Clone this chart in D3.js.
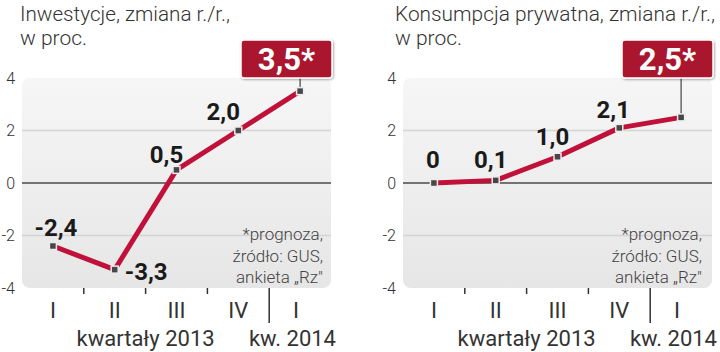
<!DOCTYPE html>
<html>
<head>
<meta charset="utf-8">
<script src="https://cdn.jsdelivr.net/npm/d3@7"></script>
<style>
  body { margin: 0; background: #fff; }
  svg { display: block; }
</style>
</head>
<body>
<svg id="chart" width="720" height="352"></svg>
<script>
// data
const quarters = ['I', 'II', 'III', 'IV', 'I']
const yTicks = [4, 2, 0, -2, -4]
const investValues = [-2.4, -3.3, 0.5, 2.0, 3.5]
const investLabels = ['-2,4', '-3,3', '0,5', '2,0', '3,5*']
const consumValues = [0, 0.1, 1.0, 2.1, 2.5]
const consumLabels = ['0', '0,1', '1,0', '2,1', '2,5*']
const noteLines = ['*prognoza,', 'źródło: GUS,', 'ankieta „Rz"']

const RED = '#c0113a'
const BOXRED = '#a9142f'
const lightFont = 'Roboto, "Open Sans", sans-serif'
const boldFont = 'Roboto, "Liberation Sans Narrow", sans-serif'

const mainSvg = d3.select('#chart')

let defs = mainSvg.append('defs')
let grad = defs.append('linearGradient')
    .attr('id', 'bgGrad')
    .attr('x1', 0).attr('y1', 0).attr('x2', 0).attr('y2', 1)
grad.append('stop').attr('offset', '0%').attr('stop-color', '#f6f6f6')
grad.append('stop').attr('offset', '100%').attr('stop-color', '#e6e6e6')

let shadow = defs.append('filter').attr('id', 'boxShadow')
    .attr('x', '-10%').attr('y', '-10%').attr('width', '130%').attr('height', '140%')
shadow.append('feDropShadow')
    .attr('dx', 1).attr('dy', 1).attr('stdDeviation', 1.2)
    .attr('flood-color', '#000').attr('flood-opacity', 0.35)

const drawPanel = (opt) => {
    let g = mainSvg.append('g').attr('class', 'panel')

    let x = d3.scaleBand()
        .domain(d3.range(quarters.length))
        .range([opt.x0, opt.x0 + 309])
        .padding(0)

    let y = d3.scaleLinear()
        .domain([-4, 4])
        .range([288, 78])

    // title
    g.selectAll('.title')
        .data(opt.title)
        .enter().append('text')
        .attr('class', 'title')
        .attr('x', opt.titleX)
        .attr('y', (d, i) => 21 + i * 24)
        .style('font-family', lightFont)
        .style('font-weight', 300)
        .style('font-size', '21px')
        .attr('fill', '#333')
        .attr('textLength', (d, i) => i === 0 ? opt.titleW : null)
        .attr('lengthAdjust', 'spacingAndGlyphs')
        .text(d => d)

    // plot background
    g.append('rect')
        .attr('x', opt.x0)
        .attr('y', y(4))
        .attr('width', 309)
        .attr('height', y(-4) - y(4))
        .attr('rx', 8)
        .attr('fill', 'url(#bgGrad)')

    // gridlines
    g.append('g')
        .selectAll('line')
        .data(yTicks.filter(v => v !== 4 && v !== -4))
        .enter().append('line')
        .attr('x1', opt.x0)
        .attr('x2', opt.x0 + 309)
        .attr('y1', d => y(d))
        .attr('y2', d => y(d))
        .attr('stroke', d => d === 0 ? '#4a4a4a' : '#d4d4d4')
        .attr('stroke-width', d => d === 0 ? 1.6 : 1.5)

    // y tick labels
    g.append('g')
        .selectAll('text')
        .data(yTicks)
        .enter().append('text')
        .attr('x', opt.x0 - 7)
        .attr('y', d => y(d))
        .attr('dy', '0.35em')
        .attr('text-anchor', 'end')
        .style('font-family', lightFont)
        .style('font-weight', 300)
        .style('font-size', '16px')
        .attr('fill', '#333')
        .text(d => d)

    // x ticks at band boundaries
    let bounds = d3.range(1, quarters.length)
    g.append('g')
        .selectAll('line')
        .data(bounds)
        .enter().append('line')
        .attr('x1', d => x(d))
        .attr('x2', d => x(d))
        .attr('y1', y(-4))
        .attr('y2', d => d === 4 ? 323 : 294)
        .attr('stroke', '#333')
        .attr('stroke-width', 1.5)

    // quarter labels
    g.append('g')
        .selectAll('text')
        .data(quarters)
        .enter().append('text')
        .attr('x', (d, i) => x(i) + x.bandwidth() / 2 - (i === 4 ? 4 : 0))
        .attr('y', 318)
        .attr('text-anchor', 'middle')
        .style('font-family', lightFont)
        .style('font-weight', 400)
        .style('font-size', '22px')
        .attr('fill', '#333')
        .text(d => d)

    g.append('text')
        .attr('x', (x(0) + x(3) + x.bandwidth()) / 2)
        .attr('y', 346)
        .attr('text-anchor', 'middle')
        .style('font-family', lightFont)
        .style('font-weight', 400)
        .style('font-size', '22px')
        .attr('fill', '#333')
        .text('kwartały 2013')

    g.append('text')
        .attr('x', opt.x0 + 309 + 5)
        .attr('y', 346)
        .attr('text-anchor', 'end')
        .style('font-family', lightFont)
        .style('font-weight', 400)
        .style('font-size', '22px')
        .attr('fill', '#333')
        .text('kw. 2014')

    // note
    g.append('g')
        .selectAll('text')
        .data(noteLines)
        .enter().append('text')
        .attr('x', opt.x0 + 309 - opt.noteDx)
        .attr('y', (d, i) => 240 + i * 21.5)
        .attr('text-anchor', 'end')
        .style('font-family', lightFont)
        .style('font-weight', 300)
        .style('font-size', '17px')
        .attr('fill', '#444')
        .text(d => d)

    // line
    let line = d3.line()
        .x((d, i) => x(i) + x.bandwidth() / 2)
        .y(d => y(d))

    g.append('path')
        .datum(opt.values)
        .attr('d', line)
        .attr('fill', 'none')
        .attr('stroke', RED)
        .attr('stroke-width', 5)
        .attr('stroke-linejoin', 'round')

    let last = opt.values.length - 1
    let lx = x(last) + x.bandwidth() / 2

    // callout stem
    g.append('line')
        .attr('x1', lx).attr('x2', lx)
        .attr('y1', 78)
        .attr('y2', y(opt.values[last]))
        .attr('stroke', '#444')
        .attr('stroke-width', 1.2)

    // markers
    g.append('g')
        .selectAll('rect')
        .data(opt.values)
        .enter().append('rect')
        .attr('x', (d, i) => x(i) + x.bandwidth() / 2 - 3.5)
        .attr('y', d => y(d) - 3.5)
        .attr('width', 7)
        .attr('height', 7)
        .attr('fill', '#474747')
        .attr('stroke', '#ececec')
        .attr('stroke-width', 1.5)

    // value labels
    g.append('g')
        .selectAll('text')
        .data(opt.values.slice(0, last))
        .enter().append('text')
        .attr('x', (d, i) => x(i) + x.bandwidth() / 2 + opt.labelOff[i][0])
        .attr('y', (d, i) => y(d) + opt.labelOff[i][1])
        .attr('text-anchor', (d, i) => opt.labelOff[i][2] || 'middle')
        .style('font-family', boldFont)
        .style('font-weight', 700)
        .style('font-size', '24px')
        .attr('fill', '#1a1a1a')
        .text((d, i) => opt.labels[i])

    // callout box
    g.append('rect')
        .attr('x', opt.boxX)
        .attr('y', 40)
        .attr('width', 91)
        .attr('height', 38)
        .attr('rx', 3)
        .attr('fill', BOXRED)
        .attr('stroke', '#fff')
        .attr('stroke-width', 1.5)
        .attr('filter', 'url(#boxShadow)')

    g.append('text')
        .attr('x', opt.boxX + 45.5)
        .attr('y', 70)
        .attr('text-anchor', 'middle')
        .style('font-family', boldFont)
        .style('font-weight', 700)
        .style('font-size', '31px')
        .attr('fill', '#fff')
        .text(opt.labels[last])
}

drawPanel({
    x0: 22,
    titleX: 20,
    titleW: 210,
    title: ['Inwestycje, zmiana r./r.,', 'w proc.'],
    values: investValues,
    labels: investLabels,
    labelOff: [[3, -10], [10, 10, 'start'], [-10, -7], [-15, -11]],
    noteDx: 8,
    boxX: 241
})

drawPanel({
    x0: 403,
    titleX: 395,
    titleW: 320,
    title: ['Konsumpcja prywatna, zmiana r./r.,', 'w proc.'],
    values: consumValues,
    labels: consumLabels,
    labelOff: [[-1, -15], [-5, -12], [-5, -12], [-6, -10]],
    noteDx: 10,
    boxX: 622
})
</script>
</body>
</html>
